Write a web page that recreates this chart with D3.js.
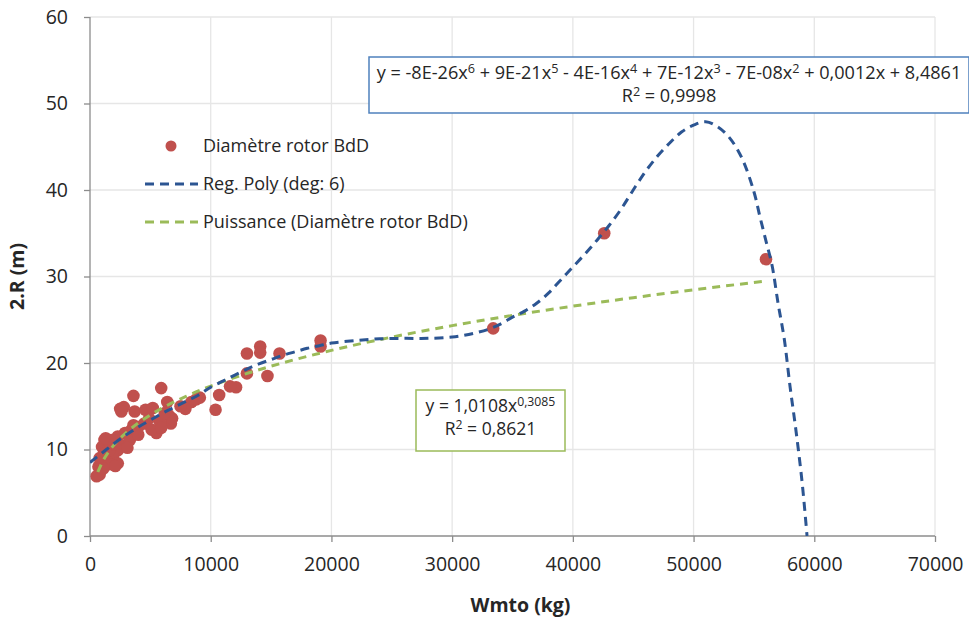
<!DOCTYPE html>
<html><head><meta charset="utf-8">
<script src="https://cdn.jsdelivr.net/npm/d3@7"></script>
<style>body{margin:0;background:#fff} text{font-family:"Open Sans",Lato,sans-serif}</style>
</head><body><svg id="c" width="969" height="622"></svg>
<script>
const xTicks=[0,10000,20000,30000,40000,50000,60000,70000];
const yTicks=[0,10,20,30,40,50,60];
const xTitle="Wmto (kg)";
const yTitle="2.R (m)";
const seriesNames=["Diamètre rotor BdD","Reg. Poly (deg: 6)","Puissance (Diamètre rotor BdD)"];
// scatter data (Wmto kg, 2R m)
const ptsX=[56000,42600,33400,19100,19100,15700,14100,14100,13000,14700,13000,12100,11600,10700,10400,9100,8400,7900,6400,6500,6700,5900,5500,5800,3600,3700,4600,5200,2500,2800,2600,4500,4000,3400,2900,2300,1800,1200,1000,1500,2300,1900,1400,700,550,800,2300,2900,3300,4000,5100,5900,6800,7500,8800,1200,1600,800,1000,1300,2000,3100,3600,4900,6200,1600,2100,1100];
const ptsY=[32,35,24,22.6,21.9,21.1,21.9,21.2,21.1,18.5,18.8,17.2,17.3,16.3,14.6,16.0,15.5,14.7,15.5,14.0,13.0,17.1,11.9,13.2,16.2,14.4,14.6,14.8,14.7,14.9,14.4,13.0,12.6,12.2,11.9,11.5,11.1,11.1,10.3,10.1,9.9,9.2,8.6,8.0,6.9,7.1,8.4,10.5,11.1,11.7,12.3,12.5,13.6,15.0,15.8,9.5,9.9,9.0,8.0,11.3,10.6,10.2,12.8,13.6,14.2,8.3,8.1,7.8];
// polynomial trendline
const polyX=[0,1000,2000,3000,4000,5000,6000,7000,8000,9000,10000,11000,12000,13000,14000,15000,16000,17000,18000,19000,20000,22000,24000,26000,28000,30000,31000,32000,33000,34000,35000,36000,37000,38000,39000,40000,41000,42000,43000,44000,45000,46000,47000,48000,49000,50000,51000,52000,53000,54000,55000,55500,56000,56500,57000,57500,58000,58500,59000,59400];
const polyY=[8.5,9.6,10.7,11.7,12.6,13.4,14.2,14.9,15.6,16.3,17.2,17.9,18.6,19.3,19.9,20.4,20.9,21.3,21.7,22.0,22.3,22.6,22.8,22.85,22.85,23.0,23.2,23.5,23.9,24.5,25.3,26.0,26.9,28.1,29.6,31.1,32.6,34.2,35.9,37.8,40.0,42.1,43.9,45.4,46.7,47.5,47.9,47.3,46.0,43.7,39.8,36.9,34.1,31.3,26.9,22.9,17.2,12.0,6.1,0];
// power trendline
const powX=[650,1000,1500,2000,3000,4000,5000,6000,8000,10000,12500,15000,20000,25000,30000,35000,40000,45000,50000,56000];
const powY=[7.4,8.5,9.65,10.55,11.95,13.06,13.99,14.8,16.17,17.33,18.56,19.63,21.46,22.99,24.32,25.5,26.57,27.55,28.46,29.47];

const svg=d3.select("#c");
const m={l:90,t:17,r:34,b:86};
const W=969,H=622;
const x=d3.scaleLinear().domain([0,70000]).range([m.l,W-m.r]);
const y=d3.scaleLinear().domain([0,60]).range([H-m.b,m.t]);

// grid
svg.append("g").selectAll("line").data(xTicks.slice(1)).join("line")
 .attr("x1",d=>x(d)).attr("x2",d=>x(d)).attr("y1",y(0)).attr("y2",y(60))
 .attr("stroke","#e6e6e6").attr("stroke-width",1.3);
svg.append("g").selectAll("line").data(yTicks.slice(1)).join("line")
 .attr("x1",x(0)).attr("x2",x(70000)).attr("y1",d=>y(d)).attr("y2",d=>y(d))
 .attr("stroke","#e6e6e6").attr("stroke-width",1.3);

// axes
const ax=svg.append("g").attr("transform",`translate(0,${y(0)})`)
 .call(d3.axisBottom(x).tickValues(xTicks).tickFormat(d3.format("d")).tickSize(6).tickPadding(15));
const ay=svg.append("g").attr("transform",`translate(${x(0)},0)`)
 .call(d3.axisLeft(y).tickValues(yTicks).tickSize(6).tickPadding(16));
[ax,ay].forEach(g=>{
 g.selectAll("path,line").attr("stroke","#8c8c8c").attr("stroke-width",1.3);
 g.selectAll("text").attr("font-size",19.5).attr("fill","#262626");
});
ax.select(".domain").attr("d",`M${x(0)},0H${x(70000)}`);
ay.select(".domain").attr("d",`M0,${y(60)}V${y(0)}`);

// titles
svg.append("text").attr("x",(x(0)+x(70000))/2+8).attr("y",612).attr("text-anchor","middle")
 .attr("font-size",19.5).attr("font-weight","bold").attr("fill","#262626").text(xTitle);
svg.append("text").attr("transform",`translate(24,${(y(0)+y(60))/2}) rotate(-90)`).attr("text-anchor","middle")
 .attr("font-size",19.5).attr("font-weight","bold").attr("fill","#262626").text(yTitle);

// clip
svg.append("clipPath").attr("id","pc").append("rect")
 .attr("x",x(0)).attr("y",y(60)).attr("width",x(70000)-x(0)).attr("height",y(0)-y(60));

// points
svg.append("g").selectAll("circle").data(ptsX.map((v,i)=>[v,ptsY[i]])).join("circle")
 .attr("cx",d=>x(d[0])).attr("cy",d=>y(d[1])).attr("r",6.3).attr("fill","#C0504D");

const line=d3.line().x(d=>x(d[0])).y(d=>y(d[1])).curve(d3.curveMonotoneX);
const lineC=d3.line().x(d=>x(d[0])).y(d=>y(d[1])).curve(d3.curveCatmullRom);
svg.append("path").attr("clip-path","url(#pc)").attr("d",line(powX.map((v,i)=>[v,powY[i]])))
 .attr("fill","none").attr("stroke","#9BBB59").attr("stroke-width",3).attr("stroke-dasharray","8,6");
svg.append("path").attr("clip-path","url(#pc)").attr("d",lineC(polyX.map((v,i)=>[v,polyY[i]])))
 .attr("fill","none").attr("stroke","#2C5592").attr("stroke-width",3).attr("stroke-dasharray","9,6");

// legend
const lg=svg.append("g").attr("font-size",18).attr("fill","#262626");
lg.append("circle").attr("cx",171).attr("cy",146).attr("r",5.5).attr("fill","#C0504D");
lg.append("line").attr("x1",145).attr("x2",198).attr("y1",184).attr("y2",184).attr("stroke","#2C5592").attr("stroke-width",3).attr("stroke-dasharray","9,6");
lg.append("line").attr("x1",145).attr("x2",198).attr("y1",222).attr("y2",222).attr("stroke","#9BBB59").attr("stroke-width",3).attr("stroke-dasharray","9,6");
seriesNames.forEach((s,i)=>lg.append("text").attr("x",203).attr("y",152+i*38).text(s));

// equation boxes
function eqBox(x0,y0,w,h,col,lines,fs){
 const g=svg.append("g");
 g.append("rect").attr("x",x0).attr("y",y0).attr("width",w).attr("height",h).attr("fill","#fff").attr("stroke",col).attr("stroke-width",1.5);
 lines.forEach((ln,i)=>{
  const t=g.append("text").attr("x",x0+w/2).attr("y",y0+22+i*23).attr("text-anchor","middle").attr("font-size",fs).attr("fill","#262626");
  ln.forEach(p=>{
   if(p.sup) t.append("tspan").attr("dy",-6).attr("font-size",fs*0.7).text(p.sup);
   else if(p.after) t.append("tspan").attr("dy",6).text(p.t);
   else t.append("tspan").text(p.t);
  });
 });
}
eqBox(369,57,600,56,"#4F81BD",[
 [{t:"y = -8E-26x"},{sup:"6"},{t:" + 9E-21x",after:1},{sup:"5"},{t:" - 4E-16x",after:1},{sup:"4"},{t:" + 7E-12x",after:1},{sup:"3"},{t:" - 7E-08x",after:1},{sup:"2"},{t:" + 0,0012x + 8,4861",after:1}],
 [{t:"R"},{sup:"2"},{t:" = 0,9998",after:1}]
],18.1);
eqBox(416,390,149,61,"#9BBB59",[
 [{t:"y = 1,0108x"},{sup:"0,3085"}],
 [{t:"R"},{sup:"2"},{t:" = 0,8621",after:1}]
],17.5);
</script></body></html>
